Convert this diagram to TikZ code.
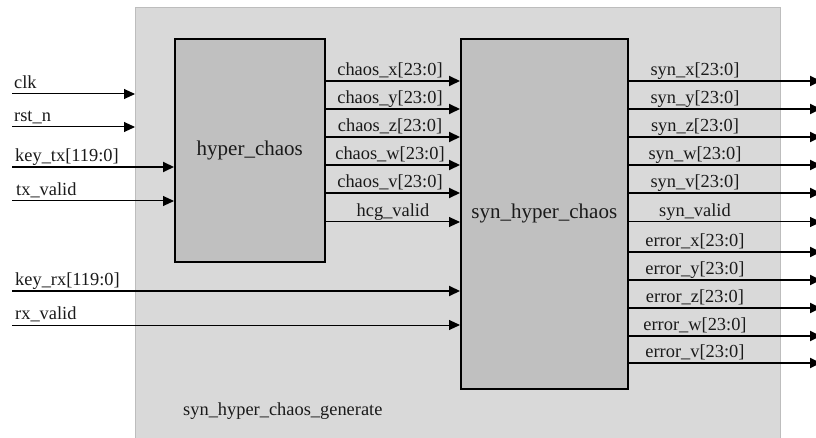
\documentclass[tikz,border=0pt]{standalone}
\usepackage{fontspec}
\setmainfont{Liberation Serif}
\usetikzlibrary{arrows.meta}
\definecolor{outerfill}{HTML}{D9D9D9}
\definecolor{outerline}{HTML}{BDBDBD}
\definecolor{blockfill}{HTML}{C0C0C0}
\definecolor{txt}{HTML}{1A1A1A}
\begin{document}
\begin{tikzpicture}[x=1pt,y=-1pt,
  lbl/.style={font=\fontsize{18.4}{21}\selectfont, inner sep=0pt, anchor=base west, text=txt},
  clbl/.style={lbl, anchor=base},
  blbl/.style={font=\fontsize{21}{24}\selectfont, text=txt},
  tip/.style={-{Triangle[length=11pt,width=10pt]}},
  sig/.style={tip, line width=1pt, draw=black},
  bus/.style={tip, line width=2pt, draw=black},
  outerbox/.style={draw=outerline, line width=1pt, fill=outerfill, inner sep=0pt, anchor=north west},
  block/.style={draw=black, line width=1.6pt, fill=blockfill, inner sep=0pt, anchor=north west, blbl}]
\useasboundingbox (0,0) rectangle (816,438);

% containers
\node[outerbox, minimum width=645pt, minimum height=433pt] (top) at (135,7) {};
\node[block, minimum width=150pt, minimum height=223pt] (hc) at (174,38) {hyper\_chaos};
\node[block, minimum width=167pt, minimum height=350pt] (shc) at (460,38) {syn\_hyper\_chaos};
\node[lbl] (gen) at (183,415) {syn\_hyper\_chaos\_generate};

% input start points
\coordinate (clkS) at (12,94);
\coordinate (rstS) at (12,127);
\coordinate (ktxS) at (12,167);
\coordinate (txvS) at (12,201);
\coordinate (krxS) at (12,291);
\coordinate (rxvS) at (12,325);

\draw[sig] (clkS) -- (clkS -| top.west);
\draw[sig] (rstS) -- (rstS -| top.west);
\draw[bus] (ktxS) -- (ktxS -| hc.west);
\draw[sig] (txvS) -- (txvS -| hc.west);
\draw[bus] (krxS) -- (krxS -| shc.west);
\draw[sig] (rxvS) -- (rxvS -| shc.west);

\node[lbl] (lclk) at (14,88.5) {clk};
\node[lbl] (lrst) at (14,121.5) {rst\_n};
\node[lbl] (lktx) at (15,161.5) {key\_tx[119:0]};
\node[lbl] (ltxv) at (16,195.5) {tx\_valid};
\node[lbl] (lkrx) at (15,285.5) {key\_rx[119:0]};
\node[lbl] (lrxv) at (15,319.5) {rx\_valid};

% internal rows
\coordinate (r1) at (0,81);
\coordinate (r2) at (0,109);
\coordinate (r3) at (0,137);
\coordinate (r4) at (0,165);
\coordinate (r5) at (0,193);
\coordinate (r6) at (0,222);

\draw[bus] (hc.east |- r1) -- (shc.west |- r1);
\draw[bus] (hc.east |- r2) -- (shc.west |- r2);
\draw[bus] (hc.east |- r3) -- (shc.west |- r3);
\draw[bus] (hc.east |- r4) -- (shc.west |- r4);
\draw[bus] (hc.east |- r5) -- (shc.west |- r5);
\draw[sig] (hc.east |- r6) -- (shc.west |- r6);

\node[clbl] (lcx) at (390,75.5) {chaos\_x[23:0]};
\node[clbl] (lcy) at (390,103.5) {chaos\_y[23:0]};
\node[clbl] (lcz) at (390,131.5) {chaos\_z[23:0]};
\node[clbl] (lcw) at (390,159.5) {chaos\_w[23:0]};
\node[clbl] (lcv) at (390,187.5) {chaos\_v[23:0]};
\node[clbl] (lhcg) at (393,216.5) {hcg\_valid};

% outputs
\coordinate (o1) at (821,81);
\coordinate (o2) at (821,109);
\coordinate (o3) at (821,137);
\coordinate (o4) at (821,165);
\coordinate (o5) at (821,193);
\coordinate (o6) at (821,222);
\coordinate (e1) at (821,252);
\coordinate (e2) at (821,280);
\coordinate (e3) at (821,308);
\coordinate (e4) at (821,336);
\coordinate (e5) at (821,363);

\draw[bus] (shc.east |- o1) -- (o1);
\draw[bus] (shc.east |- o2) -- (o2);
\draw[bus] (shc.east |- o3) -- (o3);
\draw[bus] (shc.east |- o4) -- (o4);
\draw[bus] (shc.east |- o5) -- (o5);
\draw[sig] (shc.east |- o6) -- (o6);
\draw[bus] (shc.east |- e1) -- (e1);
\draw[bus] (shc.east |- e2) -- (e2);
\draw[bus] (shc.east |- e3) -- (e3);
\draw[bus] (shc.east |- e4) -- (e4);
\draw[bus] (shc.east |- e5) -- (e5);

\node[clbl] (lsx) at (695,75.5) {syn\_x[23:0]};
\node[clbl] (lsy) at (695,103.5) {syn\_y[23:0]};
\node[clbl] (lsz) at (695,131.5) {syn\_z[23:0]};
\node[clbl] (lsw) at (695,159.5) {syn\_w[23:0]};
\node[clbl] (lsv) at (695,187.5) {syn\_v[23:0]};
\node[clbl] (lsvd) at (695,216.5) {syn\_valid};
\node[clbl] (lex) at (695,246.5) {error\_x[23:0]};
\node[clbl] (ley) at (695,274.5) {error\_y[23:0]};
\node[clbl] (lez) at (695,302.5) {error\_z[23:0]};
\node[clbl] (lew) at (695,330.5) {error\_w[23:0]};
\node[clbl] (lev) at (695,357.5) {error\_v[23:0]};
\end{tikzpicture}
\end{document}
